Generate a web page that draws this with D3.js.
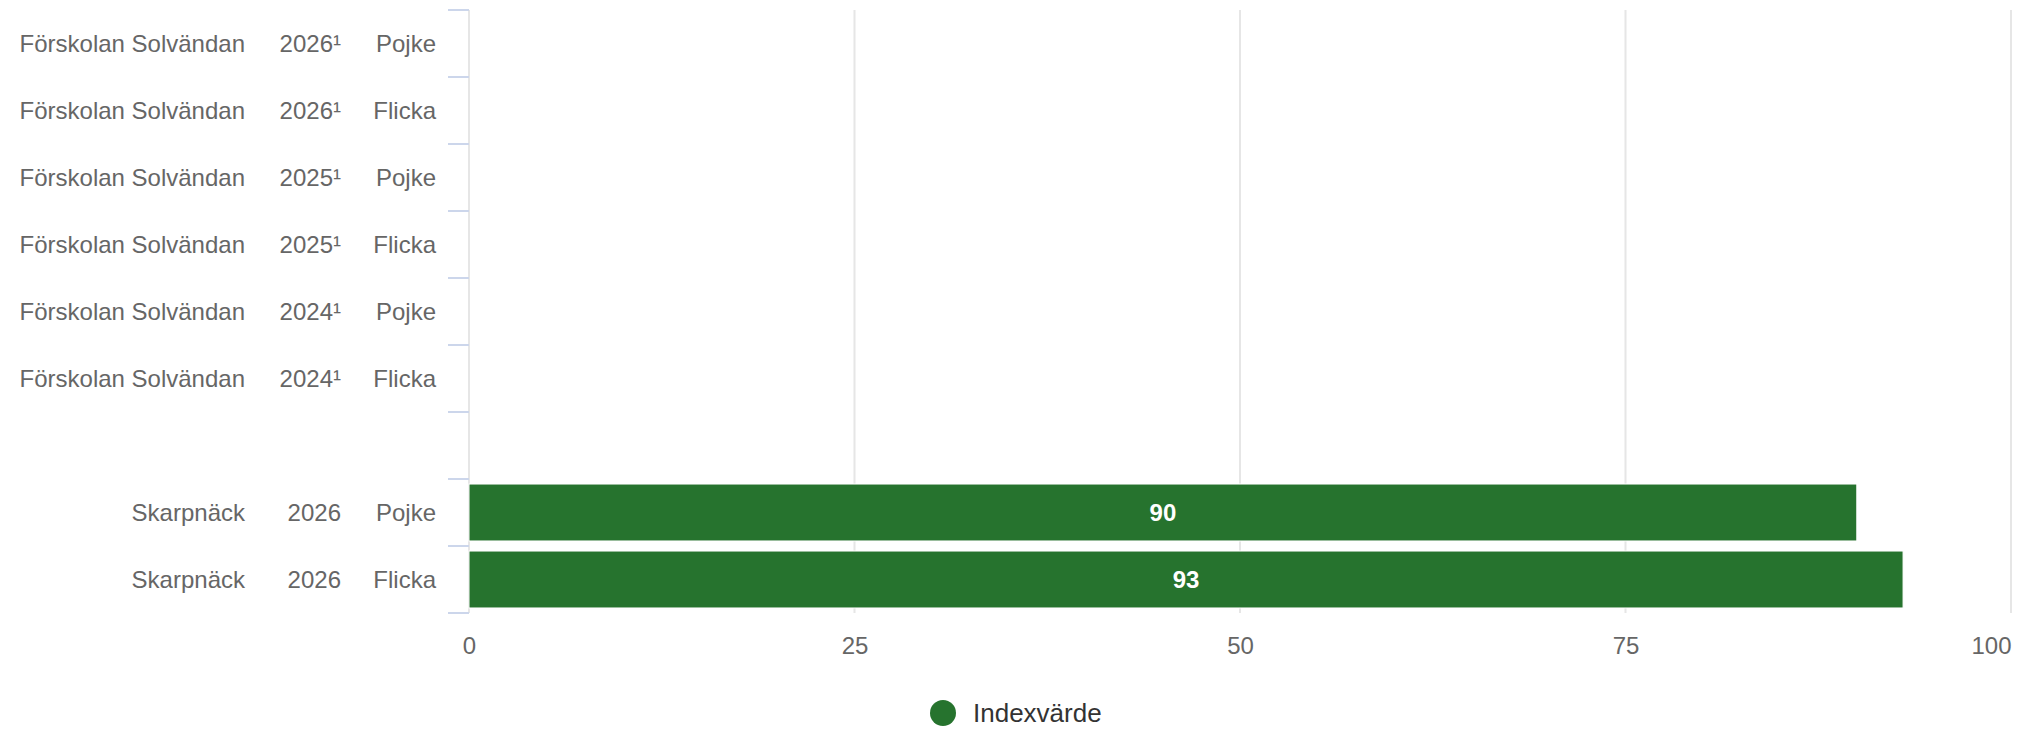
<!DOCTYPE html>
<html>
<head>
<meta charset="utf-8">
<script src="https://cdn.jsdelivr.net/npm/d3@7"></script>
<style>
  html, body { margin: 0; padding: 0; background: #ffffff; }
  svg { display: block; font-family: "Liberation Sans", Arial, Helvetica, sans-serif; }
</style>
</head>
<body>
<svg id="chart" width="2021" height="730"></svg>
<script>
// ---- data ----
const units   = ["Förskolan Solvändan","Förskolan Solvändan","Förskolan Solvändan","Förskolan Solvändan","Förskolan Solvändan","Förskolan Solvändan","","Skarpnäck","Skarpnäck"];
const years   = ["2026¹","2026¹","2025¹","2025¹","2024¹","2024¹","","2026","2026"];
const genders = ["Pojke","Flicka","Pojke","Flicka","Pojke","Flicka","","Pojke","Flicka"];
const values  = [0, 0, 0, 0, 0, 0, null, 90, 93];
const xTicks  = [0, 25, 50, 75, 100];
const seriesName = "Indexvärde";

// ---- layout ----
const W = 2021, H = 730;
const plot = { left: 469, right: 2011, top: 10, bottom: 613 };
const barColor = "#26732e";

const svg = d3.select("#chart");
const idx = values.map((_, i) => i);

const x = d3.scaleLinear().domain([0, 100]).range([plot.left, plot.right]);
const yOuter = d3.scaleBand().domain(idx).range([plot.top, plot.bottom]).padding(0);
const y = d3.scaleBand().domain(idx).range([plot.top, plot.bottom])
  .paddingInner(0.15).paddingOuter(0.075);

// gridlines
svg.append("g").selectAll("line").data(xTicks).join("line")
  .attr("x1", d => x(d)).attr("x2", d => x(d))
  .attr("y1", plot.top).attr("y2", plot.bottom)
  .attr("stroke", "#e6e6e6").attr("stroke-width", 2);

// y tick marks (between categories)
const boundaries = idx.map(i => yOuter(i)).concat([yOuter(idx[idx.length - 1]) + yOuter.bandwidth()]);
svg.append("g").selectAll("line").data(boundaries).join("line")
  .attr("x1", plot.left - 21).attr("x2", plot.left)
  .attr("y1", d => d).attr("y2", d => d)
  .attr("stroke", "#ccd6eb").attr("stroke-width", 2);

// bars
const barData = idx.filter(i => values[i] !== null);
svg.append("g").selectAll("rect").data(barData).join("rect")
  .attr("x", x(0))
  .attr("y", i => y(i))
  .attr("width", i => x(values[i]) - x(0))
  .attr("height", y.bandwidth())
  .attr("fill", barColor)
  .attr("stroke", "#ffffff").attr("stroke-width", 1);

// bar labels
svg.append("g").selectAll("text").data(barData.filter(i => values[i] > 0)).join("text")
  .attr("x", i => (x(values[i]) + x(0)) / 2)
  .attr("y", i => y(i) + y.bandwidth() / 2)
  .attr("dy", "0.35em")
  .attr("text-anchor", "middle")
  .attr("fill", "#ffffff")
  .attr("font-size", 24)
  .attr("font-weight", "bold")
  .text(i => values[i]);

// y labels (three columns)
const labelG = svg.append("g").attr("font-size", 24).attr("fill", "#666666");
const cols = [
  { arr: units, xr: 245 },
  { arr: years, xr: 341 },
  { arr: genders, xr: 436 }
];
cols.forEach(c => {
  labelG.append("g").selectAll("text").data(idx).join("text")
    .attr("x", c.xr)
    .attr("y", i => yOuter(i) + yOuter.bandwidth() / 2)
    .attr("dy", "0.35em")
    .attr("text-anchor", "end")
    .text(i => c.arr[i]);
});

// x axis labels
const xAxis = d3.axisBottom(x).tickValues(xTicks).tickSize(0).tickPadding(0);
const xg = svg.append("g").attr("transform", `translate(0,${plot.bottom})`).call(xAxis);
xg.select(".domain").remove();
xg.selectAll("text")
  .attr("y", 33)
  .attr("dy", "0.35em")
  .attr("font-size", 24)
  .attr("font-family", "\"Liberation Sans\", Arial, sans-serif")
  .attr("fill", "#666666")
  .attr("text-anchor", d => d === xTicks[xTicks.length - 1] ? "end" : "middle");

// legend
const lg = svg.append("g");
lg.append("circle").attr("cx", 943).attr("cy", 713).attr("r", 13).attr("fill", barColor);
lg.append("text").attr("x", 973).attr("y", 713).attr("dy", "0.35em")
  .attr("font-size", 26).attr("fill", "#333333").text(seriesName);
</script>
</body>
</html>
